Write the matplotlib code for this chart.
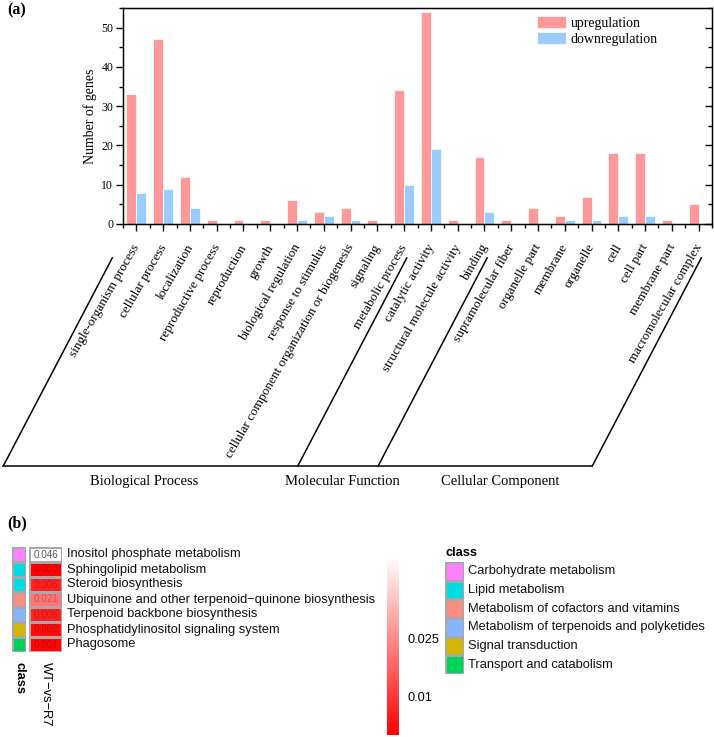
import numpy as np
import matplotlib
matplotlib.use("Agg")
import matplotlib.pyplot as plt
from matplotlib.colors import LinearSegmentedColormap, ListedColormap
from matplotlib.transforms import blended_transform_factory, ScaledTranslation
from matplotlib.ticker import MultipleLocator
from matplotlib.lines import Line2D

# ---------- panel (a): GO classification ----------
categories = [
    "single-organism process", "cellular process", "localization",
    "reproductive process", "reproduction", "growth",
    "biological regulation", "response to stimulus",
    "cellular component organization or biogenesis", "signaling",
    "metabolic process", "catalytic activity",
    "structural molecule activity", "binding", "supramolecular fiber",
    "organelle part", "membrane", "organelle", "cell", "cell part",
    "membrane part", "macromolecular complex",
]
up_counts = [33, 47, 12, 1, 1, 1, 6, 3, 4, 1, 34, 54, 1, 17, 1, 4, 2, 7, 18, 18, 1, 5]
down_counts = [8, 9, 4, 0, 0, 0, 1, 2, 1, 0, 10, 19, 0, 3, 0, 0, 1, 1, 2, 2, 0, 0]
group_names = ["Biological Process", "Molecular Function", "Cellular Component"]
group_starts = [0, 11, 14]

# ---------- panel (b): KEGG enrichment heatmap ----------
pathways = [
    "Inositol phosphate metabolism", "Sphingolipid metabolism",
    "Steroid biosynthesis",
    "Ubiquinone and other terpenoid\u2212quinone biosynthesis",
    "Terpenoid backbone biosynthesis",
    "Phosphatidylinositol signaling system", "Phagosome",
]
pvalues = [0.046, 0.000, 0.006, 0.021, 0.006, 0.002, 0.001]
pathway_class = [0, 1, 1, 2, 3, 4, 5]
class_names = [
    "Carbohydrate metabolism", "Lipid metabolism",
    "Metabolism of cofactors and vitamins",
    "Metabolism of terpenoids and polyketides",
    "Signal transduction", "Transport and catabolism",
]
class_colors = ["#FF80FF", "#00DCE4", "#FA8C80", "#87B4FF", "#D4B800", "#00D25A"]
column_name = "WT\u2212vs\u2212R7"
cbar_ticks = [0.01, 0.025]
cbar_labels = ["0.01", "0.025"]

SERIF = "Liberation Serif"
SANS = "Liberation Sans"
W, H = 714, 737
fig = plt.figure(figsize=(W / 100, H / 100), dpi=100)


def px_axes(x0, y0, x1, y1):
    # axes placed by pixel box (top-left origin)
    return fig.add_axes([x0 / W, 1 - y1 / H, (x1 - x0) / W, (y1 - y0) / H])


# ================= (a) =================
ax = px_axes(123, 8, 712, 224)
x = np.arange(len(categories))
bw = 0.37
ax.bar(x, up_counts, width=-bw, align="edge", color="#FF9999",
       edgecolor="white", linewidth=0.5, label="upregulation")
ax.bar(x, down_counts, width=bw, align="edge", color="#99CCFF",
       edgecolor="white", linewidth=0.5, label="downregulation")

ax.set_xlim(-0.5, len(categories) - 0.5)
ax.set_ylim(0, 55)
ax.yaxis.set_major_locator(MultipleLocator(10))
ax.yaxis.set_minor_locator(MultipleLocator(5))
ax.set_xticks(x)
ax.set_xticks(np.arange(len(categories) + 1) - 0.5, minor=True)
ax.set_xticklabels(categories, rotation=60, ha="right", rotation_mode="anchor",
                   fontsize=9.5, family=SERIF)
ax.tick_params(axis="x", which="major", direction="out", length=5, width=1, pad=8)
ax.tick_params(axis="x", which="minor", direction="out", length=3, width=1)
ax.tick_params(axis="y", which="major", direction="out", length=5, width=1,
               labelsize=8.5, pad=2)
ax.tick_params(axis="y", which="minor", direction="out", length=3, width=1)
for lab in ax.get_yticklabels():
    lab.set_family(SERIF)
# nudge the slanted category labels a little to the left
shift = ScaledTranslation(-0.045, 0, fig.dpi_scale_trans)
for lab in ax.get_xticklabels():
    lab.set_transform(lab.get_transform() + shift)
for sp in ax.spines.values():
    sp.set_linewidth(1.0)
ax.set_ylabel("Number of genes", fontsize=10, family=SERIF, labelpad=3)

# right-hand ticks pointing inwards
axr = ax.twinx()
axr.set_ylim(ax.get_ylim())
axr.yaxis.set_major_locator(MultipleLocator(10))
axr.yaxis.set_minor_locator(MultipleLocator(5))
axr.tick_params(axis="y", which="major", direction="in", length=5, width=1, labelright=False)
axr.tick_params(axis="y", which="minor", direction="in", length=3, width=1)

ax.legend(loc="upper left", bbox_to_anchor=(0.693, 0.99), frameon=False,
          prop={"family": SERIF, "size": 10}, handlelength=2.1, handleheight=1.0,
          handletextpad=0.35, labelspacing=0.15, borderaxespad=0)

# group brackets under the category labels
trans = blended_transform_factory(ax.transData, ax.transAxes)
bounds = group_starts + [len(categories)]
top_y, bot_y, lean = -0.157, -1.12, 4.07
tops = [b - 0.9 for b in bounds]
for t in tops:
    fig.add_artist(Line2D([t, t - lean], [top_y, bot_y], transform=trans,
                          color="black", lw=1.1, clip_on=False))
fig.add_artist(Line2D([tops[0] - lean, tops[-1] - lean], [bot_y, bot_y],
                      transform=trans, color="black", lw=1.1, clip_on=False))
for name, gx in zip(group_names, [0.3, 7.7, 13.6]):
    ax.text(gx, -1.19, name, transform=trans, ha="center", va="center",
            fontsize=10.5, family=SERIF)

fig.text(7 / W, 1 - 10 / H, "(a)", fontweight="bold", fontsize=11.5,
         family=SERIF, ha="left", va="center")

# ================= (b) =================
n = len(pathways)
cmap = LinearSegmentedColormap.from_list("red_white", ["#FF0000", "#FFFFFF"])
vmax = max(pvalues)
grid_col = "#A8A8A8"

ax_cls = px_axes(12, 547, 26, 652)
ax_cls.pcolormesh(np.array(pathway_class).reshape(-1, 1),
                  cmap=ListedColormap(class_colors), vmin=-0.5,
                  vmax=len(class_colors) - 0.5, edgecolors=grid_col, linewidth=0.8)
ax_cls.set_ylim(n, 0)
ax_cls.axis("off")
ax_cls.text(0.5, n + 0.65, "class", rotation=270, ha="center", va="top",
            fontsize=9.3, fontweight="bold", family=SANS)

ax_hm = px_axes(29, 547, 62, 652)
mesh = ax_hm.pcolormesh(np.array(pvalues).reshape(-1, 1), cmap=cmap, vmin=0,
                        vmax=vmax, edgecolors=grid_col, linewidth=0.8)
ax_hm.set_ylim(n, 0)
ax_hm.set_xlim(0, 1)
ax_hm.axis("off")
for i, v in enumerate(pvalues):
    if v / vmax > 0.9:
        tc = "#555555"
    else:
        tc = tuple(c * 0.78 for c in cmap(v / vmax)[:3])
    ax_hm.text(0.5, i + 0.5, f"{v:.3f}", ha="center", va="center",
               fontsize=7.1, color=tc, family=SANS)
    ax_hm.text(1.15, i + 0.5, pathways[i], ha="left", va="center",
               fontsize=9.3, family=SANS, color="#111111")
ax_hm.text(0.5, n + 0.65, column_name, rotation=270, ha="center", va="top",
           fontsize=9.3, family=SANS)

cax = px_axes(387, 557, 399, 735)
cb = fig.colorbar(mesh, cax=cax, ticks=cbar_ticks)
cb.outline.set_visible(False)
cax.set_yticklabels(cbar_labels, family=SANS, fontsize=9.2)
cax.tick_params(length=0, pad=6)

ax_leg = px_axes(445, 562, 464, 674)
ax_leg.pcolormesh(np.arange(len(class_names)).reshape(-1, 1),
                  cmap=ListedColormap(class_colors), vmin=-0.5,
                  vmax=len(class_colors) - 0.5, edgecolors=grid_col, linewidth=0.8)
ax_leg.set_ylim(len(class_names), 0)
ax_leg.set_xlim(0, 1)
ax_leg.axis("off")
for i, name in enumerate(class_names):
    ax_leg.text(1.22, i + 0.5, name, ha="left", va="center", fontsize=9.3,
                family=SANS, color="#111111")
ax_leg.text(0, -0.48, "class", ha="left", va="center", fontsize=9.3,
            fontweight="bold", family=SANS)

fig.text(7 / W, 1 - 523 / H, "(b)", fontweight="bold", fontsize=11.5,
         family=SERIF, ha="left", va="center")

fig.savefig("out.png", dpi=100)
